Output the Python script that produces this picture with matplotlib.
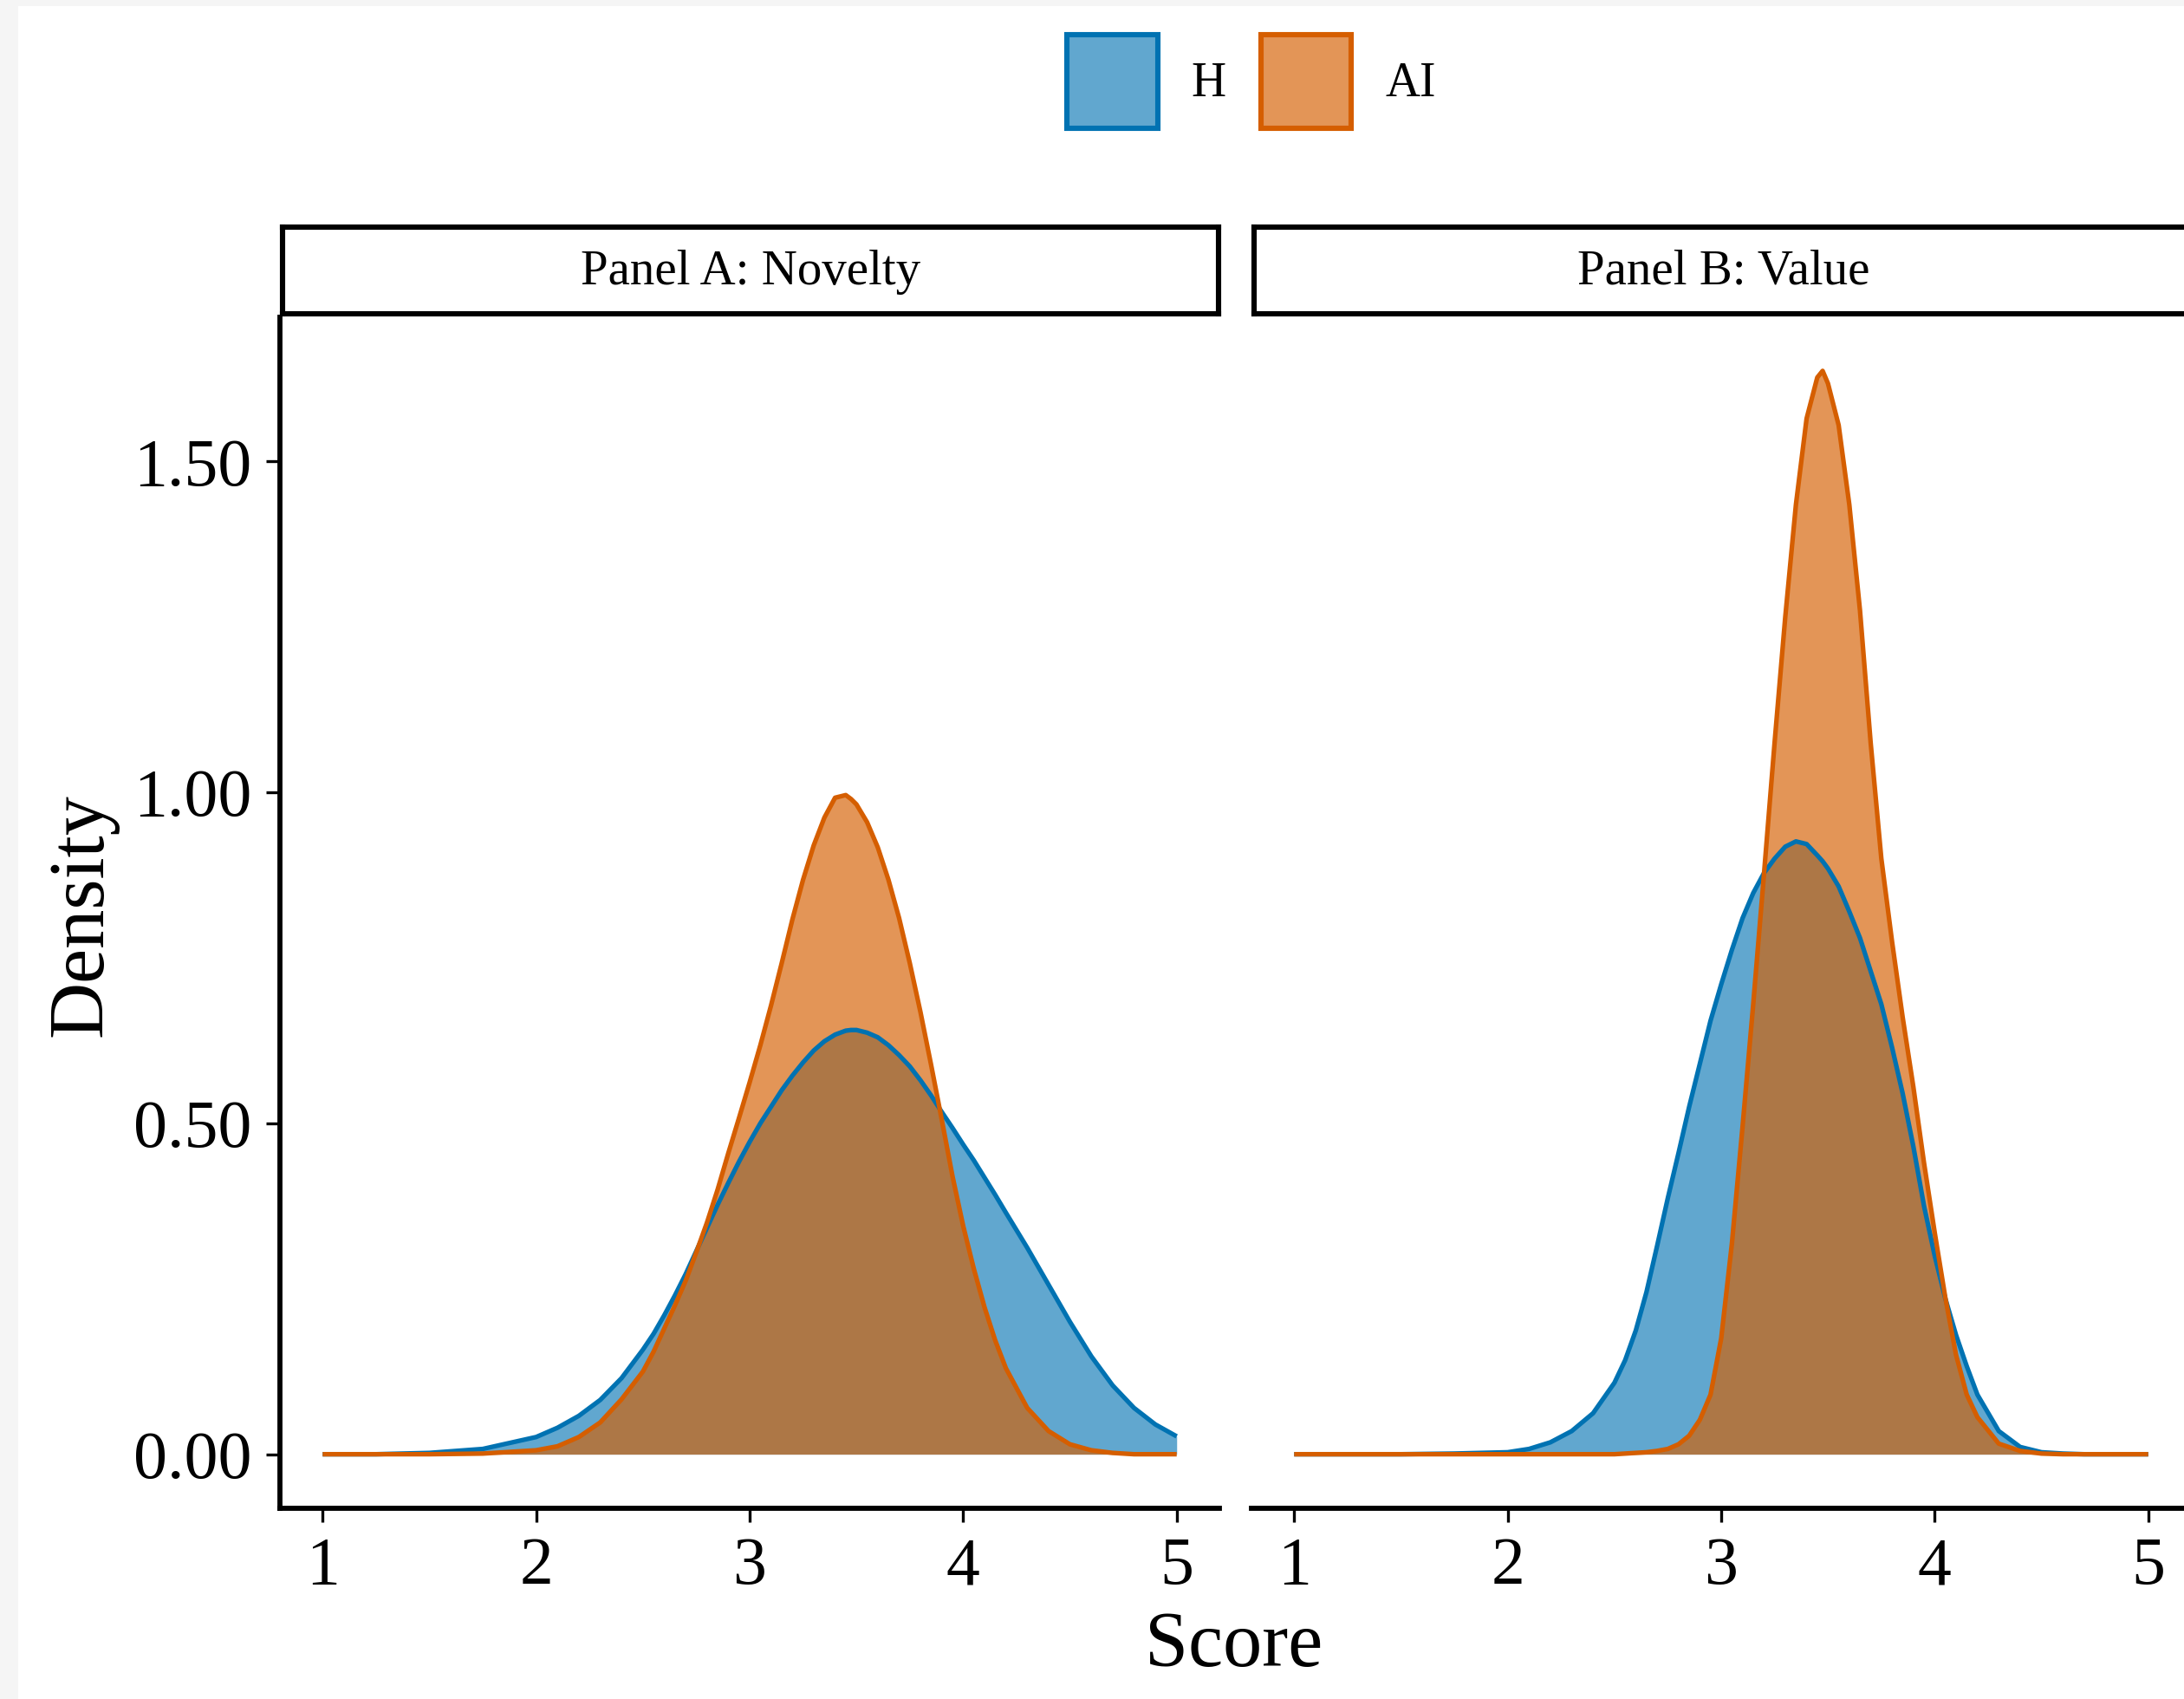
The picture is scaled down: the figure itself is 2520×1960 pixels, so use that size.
import matplotlib.pyplot as plt
from matplotlib.patches import Patch, Rectangle

plt.rcParams['font.family'] = ['Liberation Serif', 'DejaVu Serif']

# density curves (x = score)
score = [1.0, 1.25, 1.5, 1.75, 2.0, 2.1, 2.2, 2.3, 2.4,
         2.5, 2.55, 2.6, 2.65, 2.7, 2.75, 2.8, 2.85, 2.9, 2.95,
         3.0, 3.05, 3.1, 3.15, 3.2, 3.25, 3.3, 3.35, 3.4, 3.45, 3.475,
         3.5, 3.55, 3.6, 3.65, 3.7, 3.75, 3.8, 3.85, 3.9, 3.95,
         4.0, 4.05, 4.1, 4.15, 4.2,
         4.3, 4.4, 4.5, 4.6, 4.7, 4.8, 4.9, 5.0]

h_novelty = [0.000, 0.000, 0.002, 0.008, 0.026, 0.040, 0.058, 0.082, 0.115,
             0.158, 0.182, 0.210, 0.240, 0.272, 0.307, 0.342, 0.377, 0.410, 0.442,
             0.472, 0.500, 0.525, 0.550, 0.572, 0.592, 0.610, 0.624, 0.634, 0.640, 0.641,
             0.641, 0.637, 0.630, 0.618, 0.603, 0.586, 0.565, 0.542, 0.517, 0.493,
             0.468, 0.444, 0.418, 0.392, 0.365,
             0.312, 0.256, 0.200, 0.148, 0.104, 0.070, 0.045, 0.027]

ai_novelty = [0.000, 0.000, 0.000, 0.001, 0.006, 0.012, 0.026, 0.048, 0.083,
              0.125, 0.155, 0.190, 0.225, 0.262, 0.305, 0.350, 0.400, 0.455, 0.508,
              0.562, 0.618, 0.678, 0.742, 0.808, 0.868, 0.920, 0.962, 0.992, 0.996, 0.990,
              0.982, 0.955, 0.917, 0.868, 0.810, 0.742, 0.668, 0.588, 0.505, 0.420,
              0.345, 0.280, 0.222, 0.172, 0.130,
              0.070, 0.035, 0.015, 0.006, 0.002, 0.000, 0.000, 0.000]

h_value = [0.000, 0.000, 0.000, 0.001, 0.003, 0.008, 0.018, 0.035, 0.062,
           0.108, 0.142, 0.187, 0.245, 0.315, 0.387, 0.455, 0.525, 0.590, 0.655,
           0.710, 0.762, 0.810, 0.848, 0.878, 0.900, 0.918, 0.926, 0.922, 0.905, 0.896,
           0.885, 0.858, 0.820, 0.780, 0.730, 0.680, 0.615, 0.545, 0.465, 0.375,
           0.300, 0.235, 0.180, 0.133, 0.090,
           0.035, 0.011, 0.003, 0.001, 0.000, 0.000, 0.000, 0.000]

ai_value = [0.000, 0.000, 0.000, 0.000, 0.000, 0.000, 0.000, 0.000, 0.000,
            0.000, 0.001, 0.002, 0.003, 0.005, 0.008, 0.015, 0.028, 0.052, 0.090,
            0.175, 0.318, 0.495, 0.680, 0.875, 1.075, 1.265, 1.435, 1.565, 1.627, 1.637,
            1.618, 1.555, 1.435, 1.275, 1.075, 0.900, 0.775, 0.660, 0.555, 0.440,
            0.335, 0.236, 0.150, 0.090, 0.056,
            0.016, 0.005, 0.001, 0.000, 0.000, 0.000, 0.000, 0.000]

panel_titles = ['Panel A: Novelty', 'Panel B: Value']
group_labels = ['H', 'AI']
group_colors = ['#0072B2', '#D55E00']
group_alpha = [0.62, 0.66]
x_ticks = [1, 2, 3, 4, 5]
y_ticks = [0.0, 0.5, 1.0, 1.5]
y_ticklabels = ['0.00', '0.50', '1.00', '1.50']

W, H = 2520, 1960
DPI = 200


def px_box(left, top, right, bottom):
    # pixel box (from top-left) -> figure fraction [l, b, w, h]
    return [left / W, 1 - bottom / H, (right - left) / W, (bottom - top) / H]


fig = plt.figure(figsize=(W / DPI, H / DPI), dpi=DPI)
fig.patch.set_facecolor('white')

# grey screenshot margin on the left and top
fig.patches.append(Rectangle((0, 0), 21 / W, 1, transform=fig.transFigure,
                             facecolor='#f5f5f5', edgecolor='none', zorder=0))
fig.patches.append(Rectangle((0, 1 - 7 / H), 1, 7 / H, transform=fig.transFigure,
                             facecolor='#f5f5f5', edgecolor='none', zorder=0))

panels = [
    (px_box(323, 366, 1407, 1740), px_box(326, 262, 1406, 362), h_novelty, ai_novelty),
    (px_box(1444, 366, 2528, 1740), px_box(1447, 262, 2530, 362), h_value, ai_value),
]

for i, (box, strip_box, h_vals, ai_vals) in enumerate(panels):
    ax = fig.add_axes(box)
    for vals, color, alpha in zip([h_vals, ai_vals], group_colors, group_alpha):
        ax.fill_between(score, 0, vals, color=color, alpha=alpha, linewidth=0)
        ax.plot(score, vals, color=color, lw=1.9, solid_joinstyle='round',
                solid_capstyle='butt')

    ax.set_xlim(0.8, 5.2)
    ax.set_ylim(-0.0817, 1.718)
    ax.set_xticks(x_ticks)
    ax.set_xticklabels([str(t) for t in x_ticks])
    ax.spines['top'].set_visible(False)
    ax.spines['right'].set_visible(False)
    ax.spines['bottom'].set_linewidth(2.1)
    ax.spines['left'].set_linewidth(2.1)
    ax.tick_params(axis='both', length=5.8, width=1.2, labelsize=28, pad=6, colors='black')
    if i == 0:
        ax.set_yticks(y_ticks)
        ax.set_yticklabels(y_ticklabels)
    else:
        ax.spines['left'].set_visible(False)
        ax.set_yticks([])

    # facet strip
    sax = fig.add_axes(strip_box)
    sax.set_xticks([])
    sax.set_yticks([])
    for s in sax.spines.values():
        s.set_linewidth(2.2)
    sax.text(0.5, 0.48, panel_titles[i], ha='center', va='center', fontsize=20.5,
             transform=sax.transAxes)

fig.text(117 / W, 1 - 1056 / H, 'Density', rotation=90, rotation_mode='anchor',
         ha='center', va='baseline', fontsize=32.5)
fig.text(1424 / W, 1 - 1922 / H, 'Score', ha='center', va='baseline', fontsize=32.5)

handles = [Patch(facecolor=(c, a), edgecolor=c, linewidth=2.2, label=lab)
           for c, a, lab in zip(group_colors, group_alpha, group_labels)]
fig.legend(handles=handles, loc='center', bbox_to_anchor=(1444 / W, 1 - 94 / H),
           ncol=2, frameon=False, fontsize=20, handlelength=1.88, handleheight=2.6,
           handletextpad=0.7, columnspacing=0.72)

fig.savefig('out.png', dpi=DPI)
